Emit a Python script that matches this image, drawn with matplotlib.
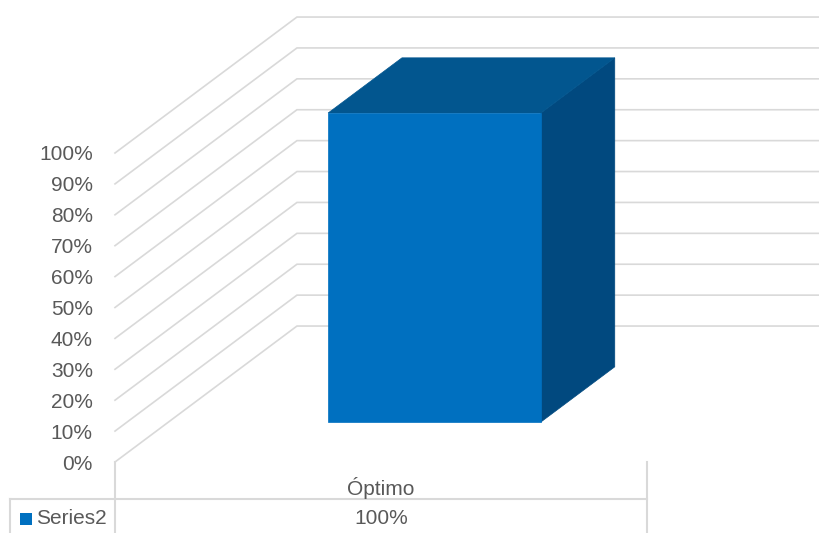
import matplotlib
matplotlib.use("Agg")
import matplotlib.pyplot as plt
from matplotlib.patches import Polygon, Rectangle

# data
categories = ["Óptimo"]
series_name = "Series2"
values = [100]
yticks = list(range(0, 101, 10))

# colours
FRONT = "#0070C0"
TOP = "#02568F"
SIDE = "#01497F"
GRID = "#D9D9D9"
TEXT = "#595959"

# fake 3D geometry, in data units (category width = 1, value in %)
DEPTH_DX = 0.342   # x shift of the back wall
DEPTH_DY = 44.0    # y shift of the back wall
BAR_FRONT = 0.294  # depth fraction of bar front face
BAR_BACK = 0.70    # depth fraction of bar back face
GAP = 0.30         # gap on each side of the bar inside a category

W, H = 819, 533
fig = plt.figure(figsize=(W / 100, H / 100), dpi=100)
# axes = front plane of the chart (0% .. 100%, one category wide)
ax = fig.add_axes([115 / W, (H - 462) / H, 532 / W, 309 / H])
n = len(categories)
ax.set_xlim(0, n)
ax.set_ylim(0, 100)
for s in ax.spines.values():
    s.set_visible(False)
ax.set_xticks([])
ax.set_yticks(yticks)
ax.set_yticklabels([f"{t}%" for t in yticks])
ax.tick_params(axis="y", length=0, pad=16, labelsize=15, labelcolor=TEXT)
for lab in ax.get_yticklabels():
    lab.set_family("Liberation Sans")


def shift(x, y, f):
    return (x + f * DEPTH_DX, y + f * DEPTH_DY)


# gridlines: diagonal on the side wall, horizontal on the back wall
for t in yticks:
    bx, by = shift(0, t, 1.0)
    ax.plot([0, bx, n + 1.0], [t, by, by], color=GRID, lw=1.2,
            clip_on=False, zorder=1, solid_joinstyle="miter")

# bars
for i, v in enumerate(values):
    x0 = i + GAP
    x1 = i + 1 - GAP
    f0, f1 = BAR_FRONT, BAR_BACK
    front = [shift(x0, 0, f0), shift(x1, 0, f0), shift(x1, v, f0), shift(x0, v, f0)]
    top = [shift(x0, v, f0), shift(x1, v, f0), shift(x1, v, f1), shift(x0, v, f1)]
    side = [shift(x1, 0, f0), shift(x1, 0, f1), shift(x1, v, f1), shift(x1, v, f0)]
    for poly, c in [(side, SIDE), (top, TOP), (front, FRONT)]:
        ax.add_patch(Polygon(poly, closed=True, facecolor=c, edgecolor=c,
                             lw=0.5, clip_on=False, zorder=3))

# data table
ypx = 100 / 309     # data units per pixel (vertical)
xpx = n / 532       # data units per pixel (horizontal)
row_y = -37 * ypx
bottom = -75 * ypx
tk = dict(color=GRID, lw=1.5, clip_on=False, zorder=1)
ax.plot([-105 * xpx, n], [row_y, row_y], **tk)
ax.plot([-105 * xpx, -105 * xpx], [row_y, bottom], **tk)
for i in range(n + 1):
    ax.plot([i, i], [0, bottom], **tk)
for i, (c, v) in enumerate(zip(categories, values)):
    ax.text(i + 0.5, -26 * ypx, c, ha="center", va="center", fontsize=15,
            color=TEXT, family="Liberation Sans")
    ax.text(i + 0.5, -56 * ypx, f"{v}%", ha="center", va="center", fontsize=15,
            color=TEXT, family="Liberation Sans")
ax.add_patch(Rectangle((-95 * xpx, -63 * ypx), 12 * xpx, 12 * ypx,
                       facecolor=FRONT, edgecolor="none", clip_on=False))
ax.text(-79 * xpx, -56 * ypx, series_name, ha="left", va="center", fontsize=15,
        color=TEXT, family="Liberation Sans")

fig.savefig("out.png", dpi=100)
